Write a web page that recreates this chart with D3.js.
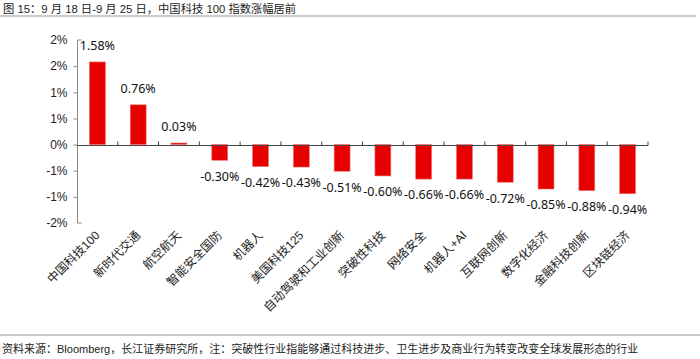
<!DOCTYPE html>
<html><head><meta charset="utf-8">
<script src="https://cdn.jsdelivr.net/npm/d3@7"></script>
<style>
html,body{margin:0;padding:0;background:#fff;}
svg{display:block;}
</style></head>
<body>
<svg id="c" width="700" height="359"></svg>
<script>
const categories = ["中国科技100","新时代交通","航空航天","智能安全国防","机器人","美国科技125","自动驾驶和工业创新","突破性科技","网络安全","机器人+AI","互联网创新","数字化经济","金融科技创新","区块链经济"];
const values = [1.58,0.76,0.03,-0.30,-0.42,-0.43,-0.51,-0.60,-0.66,-0.66,-0.72,-0.85,-0.88,-0.94];
const tickValues = [2.0,1.5,1.0,0.5,0,-0.5,-1.0,-1.5];
const tickLabels = ["2%","2%","1%","1%","0%","-1%","-1%","-2%"];
const title = "图 15：9 月 18 日-9 月 25 日，中国科技 100 指数涨幅居前";
const source = "资料来源：Bloomberg，长江证券研究所，注：突破性行业指能够通过科技进步、卫生进步及商业行为转变改变全球发展形态的行业";

const svg = d3.select("#c");
const font = "'Liberation Sans','Noto Sans CJK SC',sans-serif";
const labelFont = "'Noto Sans','Noto Sans CJK SC',sans-serif";

// title
svg.append("text").attr("x",3).attr("y",13).attr("font-family",font).attr("font-size",11.3).attr("fill","#222").text(title);
svg.append("line").attr("x1",0).attr("x2",696).attr("y1",16).attr("y2",16).attr("stroke","#999").attr("stroke-width",1.2);

// footer
svg.append("line").attr("x1",0).attr("x2",700).attr("y1",335).attr("y2",335).attr("stroke","#999").attr("stroke-width",1);
svg.append("text").attr("x",2).attr("y",353).attr("font-family",font).attr("font-size",11).attr("fill","#222").text(source);

const x0 = 77, x1 = 648, yTop = 40, yBot = 223;
const x = d3.scaleBand().domain(categories).range([x0,x1]).paddingInner(0.61).paddingOuter(0.305);
const y = d3.scaleLinear().domain([-1.5,2.0]).range([yBot,yTop]);

// y axis
const yAxis = d3.axisLeft(y).tickValues(tickValues).tickFormat((d,i)=>tickLabels[i]).tickSize(4).tickPadding(6);
const ga = svg.append("g").attr("transform",`translate(${x0+0.5},0)`).call(yAxis);
ga.select(".domain").attr("stroke","#888").attr("d",`M0,${yTop}V${yBot}`);
ga.selectAll(".tick line").attr("stroke","#888");
ga.selectAll(".tick text").attr("font-family",font).attr("font-size",12).attr("fill","#222");
[yTop,yBot].forEach(v=>{
  ga.append("line").attr("x1",0).attr("x2",4).attr("y1",v).attr("y2",v).attr("stroke","#888");
});
ga.selectAll(".tick").filter(d=>d===2.0||d===-1.5).select("line").attr("x2",0);

// bars
svg.append("g").selectAll("rect").data(values).join("rect")
  .attr("x",(d,i)=>x(categories[i]))
  .attr("width",x.bandwidth())
  .attr("y",d=>d>=0?y(d):y(0))
  .attr("height",d=>Math.abs(y(d)-y(0)))
  .attr("fill","#E60000")
  .attr("stroke","#F07070").attr("stroke-width",0.6);

// x axis line at zero with ticks up between categories
const zeroY = Math.round(y(0))+0.5;
svg.append("line").attr("x1",x0).attr("x2",x1).attr("y1",zeroY).attr("y2",zeroY).attr("stroke","#444").attr("stroke-width",1);
const step = x.step();
svg.append("g").selectAll("line").data(d3.range(1,categories.length+1)).join("line")
  .attr("x1",i=>x0+i*step).attr("x2",i=>x0+i*step)
  .attr("y1",zeroY).attr("y2",zeroY-4).attr("stroke","#444");

// data labels
svg.append("g").selectAll("text").data(values).join("text")
  .attr("x",(d,i)=>x(categories[i])+x.bandwidth()/2)
  .attr("y",d=>d>=0?y(d)-16:y(d)+16)
  .attr("dy","0.35em")
  .attr("text-anchor","middle")
  .attr("font-family",labelFont).attr("font-size",12.5).attr("fill","#111")
  .text(d=>d.toFixed(2)+"%");

// category labels rotated
svg.append("g").selectAll("text").data(categories).join("text")
  .attr("transform",(d)=>`translate(${x(d)+x.bandwidth()/2+3},${yBot+13}) rotate(-45)`)
  .attr("text-anchor","end")
  .attr("font-family",font).attr("font-size",12).attr("fill","#222")
  .text(d=>d);
</script>
</body></html>
